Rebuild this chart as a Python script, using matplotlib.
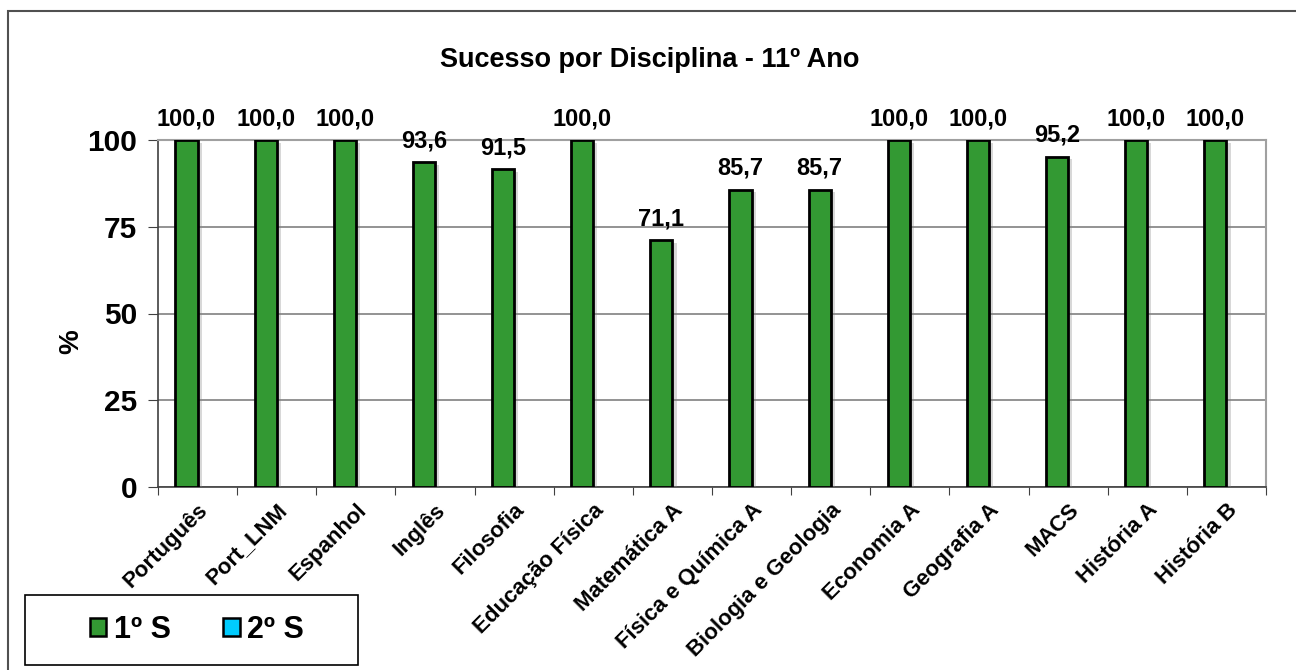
import matplotlib
matplotlib.use("Agg")
import matplotlib.pyplot as plt
from matplotlib.patches import Rectangle, Patch
import matplotlib.patheffects as pe
import numpy as np

plt.rcParams['font.family'] = ['Liberation Sans', 'DejaVu Sans']
plt.rcParams['font.weight'] = 'bold'

categories = ["Português", "Port_LNM", "Espanhol", "Inglês", "Filosofia",
              "Educação Física", "Matemática A", "Física e Química A",
              "Biologia e Geologia", "Economia A", "Geografia A", "MACS",
              "História A", "História B"]
s1_values = [100.0, 100.0, 100.0, 93.6, 91.5, 100.0, 71.1, 85.7, 85.7,
             100.0, 100.0, 95.2, 100.0, 100.0]
series_names = ["1º S", "2º S"]
yticks = [0, 25, 50, 75, 100]

W, H = 1296, 670
fig = plt.figure(figsize=(W / 100, H / 100), dpi=100)
ax = fig.add_axes([158 / W, 1 - 487 / H, (1266 - 158) / W, (487 - 140) / H])

n = len(categories)
x = np.arange(n) + 0.5
bw = 0.28
bars = ax.bar(x - bw / 2, s1_values, width=bw, color='#339933',
              edgecolor='black', linewidth=2, zorder=3)
for b in bars:
    b.set_path_effects([pe.SimplePatchShadow(offset=(3, -2), shadow_rgbFace='gray', alpha=0.3),
                        pe.Normal()])

for xi, v in zip(x, s1_values):
    ax.annotate(f"{v:.1f}".replace('.', ','), (xi - bw / 2, v),
                xytext=(0, 7), textcoords='offset points',
                ha='center', va='bottom', fontsize=17, fontweight='bold')

ax.set_xlim(0, n)
ax.set_ylim(0, 100)
ax.set_yticks(yticks)
ax.set_yticklabels([str(t) for t in yticks], fontsize=21.5, fontweight='bold')
ax.set_xticks(np.arange(n + 1))
ax.set_xticklabels([])
ax.set_xticks(x, minor=True)
ax.set_xticklabels(categories, minor=True, rotation=45, ha='right',
                   rotation_mode='anchor', fontsize=16, fontweight='bold')
ax.tick_params(axis='x', which='minor', length=0, pad=9)
ax.tick_params(axis='x', which='major', length=6, direction='out', color='#404040')
ax.tick_params(axis='y', length=7, direction='out', color='#404040', pad=8)

ax.grid(axis='y', color='#808080', linewidth=1.2, zorder=0)
ax.set_axisbelow(True)
for s in ['top', 'right']:
    ax.spines[s].set_color('#a0a0a0')
    ax.spines[s].set_linewidth(1.5)
for s in ['left', 'bottom']:
    ax.spines[s].set_color('#404040')
    ax.spines[s].set_linewidth(1.2)

ax.set_ylabel('%', fontsize=20, fontweight='bold')
ax.yaxis.set_label_coords((84 - 158) / (1266 - 158), 0.42)

fig.text(650 / W, 1 - 60 / H, "Sucesso por Disciplina - 11º Ano",
         ha='center', va='center', fontsize=19.5, fontweight='bold')

# chart-area border
fig.patches.append(Rectangle((8 / W, -0.05), 1.2, 1 - 11 / H + 0.05,
                             transform=fig.transFigure, fill=False,
                             edgecolor='#505050', linewidth=1.5))

# legend box
fig.patches.append(Rectangle((25 / W, 1 - 665 / H), (358 - 25) / W, 70 / H,
                             transform=fig.transFigure, fill=True, facecolor='white',
                             edgecolor='black', linewidth=1.2, zorder=5))
handles = [Patch(facecolor='#339933', edgecolor='black', linewidth=1.8),
           Patch(facecolor='#00CCFF', edgecolor='black', linewidth=1.8)]
leg = fig.legend(handles, series_names, loc='center',
                 bbox_to_anchor=(197 / W, 1 - 630 / H),
                 ncol=2, frameon=False,
                 handlelength=0.55, handleheight=0.55, handletextpad=0.25,
                 borderpad=0.0, columnspacing=1.7, prop={'weight': 'bold', 'size': 22})
leg.set_zorder(6)

fig.savefig('out.png', dpi=100)
